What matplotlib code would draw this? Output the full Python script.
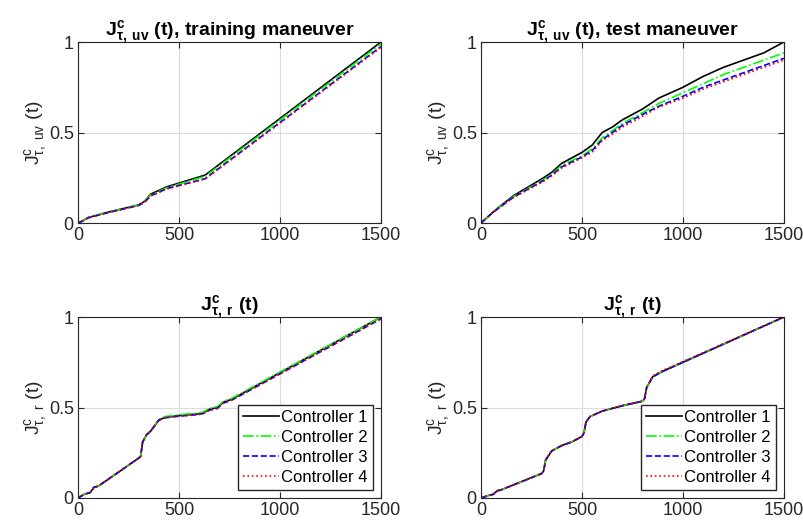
import matplotlib.pyplot as plt
import numpy as np

plt.rcParams['font.family'] = 'Liberation Sans'
plt.rcParams['mathtext.fontset'] = 'custom'
plt.rcParams['mathtext.rm'] = 'Liberation Sans'
plt.rcParams['mathtext.bf'] = 'Liberation Sans:bold'
plt.rcParams['mathtext.it'] = 'Liberation Sans:italic'

# training maneuver, uv
t_tr_uv = [0, 20, 50, 150, 300, 330, 360, 440, 630, 1500]
tr_uv_c1 = [0, 0.01, 0.03, 0.06, 0.10, 0.12, 0.16, 0.20, 0.265, 1.0]
tr_uv_c2 = [0, 0.01, 0.03, 0.06, 0.10, 0.12, 0.155, 0.195, 0.258, 0.99]
tr_uv_c3 = [0, 0.01, 0.028, 0.058, 0.097, 0.115, 0.15, 0.19, 0.245, 0.975]
tr_uv_c4 = [0, 0.01, 0.028, 0.058, 0.097, 0.115, 0.15, 0.188, 0.243, 0.97]

# test maneuver, uv
t_te_uv = [0, 50, 80, 160, 310, 350, 400, 500, 550, 600, 650, 700, 800, 880, 1000, 1100, 1200, 1300, 1400, 1500]
te_uv_c1 = [0, 0.05, 0.08, 0.15, 0.25, 0.28, 0.33, 0.39, 0.43, 0.50, 0.53, 0.57, 0.63, 0.69, 0.75, 0.81, 0.86, 0.90, 0.94, 1.0]
te_uv_c2 = [0, 0.05, 0.078, 0.145, 0.24, 0.27, 0.32, 0.37, 0.41, 0.47, 0.51, 0.55, 0.61, 0.66, 0.72, 0.77, 0.82, 0.86, 0.90, 0.94]
te_uv_c3 = [0, 0.05, 0.076, 0.142, 0.235, 0.265, 0.31, 0.365, 0.40, 0.46, 0.50, 0.54, 0.60, 0.645, 0.70, 0.75, 0.79, 0.83, 0.87, 0.91]
te_uv_c4 = [0, 0.05, 0.075, 0.14, 0.23, 0.26, 0.305, 0.36, 0.39, 0.455, 0.49, 0.53, 0.59, 0.64, 0.69, 0.74, 0.78, 0.82, 0.86, 0.90]

# training maneuver, r
t_tr_r = [0, 30, 60, 80, 100, 300, 310, 320, 340, 360, 400, 430, 500, 600, 620, 650, 690, 720, 760, 1500]
tr_r_c1 = [0, 0.02, 0.03, 0.06, 0.065, 0.22, 0.23, 0.31, 0.35, 0.37, 0.43, 0.445, 0.455, 0.465, 0.47, 0.49, 0.50, 0.53, 0.545, 1.0]
tr_r_c2 = [0, 0.02, 0.03, 0.06, 0.065, 0.22, 0.23, 0.31, 0.35, 0.37, 0.435, 0.45, 0.46, 0.47, 0.475, 0.495, 0.505, 0.535, 0.55, 1.0]
tr_r_c3 = [0, 0.02, 0.03, 0.06, 0.065, 0.22, 0.23, 0.31, 0.35, 0.37, 0.43, 0.443, 0.452, 0.462, 0.467, 0.485, 0.495, 0.525, 0.54, 0.99]
tr_r_c4 = [0, 0.02, 0.03, 0.06, 0.065, 0.22, 0.23, 0.31, 0.35, 0.37, 0.43, 0.443, 0.452, 0.462, 0.467, 0.485, 0.495, 0.525, 0.54, 0.99]

# test maneuver, r
t_te_r = [0, 40, 60, 80, 100, 300, 310, 320, 350, 400, 450, 500, 510, 520, 540, 600, 700, 800, 810, 820, 850, 900, 1500]
te_r_c1 = [0, 0.015, 0.02, 0.04, 0.045, 0.135, 0.15, 0.21, 0.26, 0.29, 0.31, 0.34, 0.36, 0.42, 0.45, 0.48, 0.51, 0.535, 0.55, 0.61, 0.67, 0.70, 1.0]
te_r_c2 = te_r_c1
te_r_c3 = te_r_c1
te_r_c4 = [0, 0.015, 0.02, 0.04, 0.045, 0.135, 0.15, 0.21, 0.26, 0.29, 0.31, 0.34, 0.36, 0.42, 0.45, 0.48, 0.51, 0.535, 0.55, 0.61, 0.675, 0.705, 1.0]

labels = ['Controller 1', 'Controller 2', 'Controller 3', 'Controller 4']
styles = [('k', '-'), ('#00ff00', '-.'), ('b', '--'), ('r', ':')]

panels = [
    (t_tr_uv, [tr_uv_c1, tr_uv_c2, tr_uv_c3, tr_uv_c4],
     r'$\mathbf{J^{c}_{\tau,\ uv}}$ $\mathbf{(t)}$, training maneuver', r'$\mathrm{J^{c}_{\tau,\ uv}}$ (t)', False),
    (t_te_uv, [te_uv_c1, te_uv_c2, te_uv_c3, te_uv_c4],
     r'$\mathbf{J^{c}_{\tau,\ uv}}$ $\mathbf{(t)}$, test maneuver', r'$\mathrm{J^{c}_{\tau,\ uv}}$ (t)', False),
    (t_tr_r, [tr_r_c1, tr_r_c2, tr_r_c3, tr_r_c4],
     r'$\mathbf{J^{c}_{\tau,\ r}}$ $\mathbf{(t)}$', r'$\mathrm{J^{c}_{\tau,\ r}}$ (t)', True),
    (t_te_r, [te_r_c1, te_r_c2, te_r_c3, te_r_c4],
     r'$\mathbf{J^{c}_{\tau,\ r}}$ $\mathbf{(t)}$', r'$\mathrm{J^{c}_{\tau,\ r}}$ (t)', True),
]

fig = plt.figure(figsize=(8.04, 5.29), dpi=100)
W, H = 804, 529
boxes = [(78, 42), (481, 42), (78, 317), (481, 317)]

for (x0, y0), (t, series, title, ylab, leg) in zip(boxes, panels):
    ax = fig.add_axes([x0 / W, 1 - (y0 + 181) / H, 303 / W, 181 / H])
    for s, (c, ls), lab in zip(series, styles, labels):
        ax.plot(t, s, color=c, linestyle=ls, linewidth=1.2, label=lab)
    ax.set_xlim(0, 1500)
    ax.set_ylim(0, 1)
    ax.set_xticks([0, 500, 1000, 1500])
    ax.set_yticks([0, 0.5, 1])
    ax.set_yticklabels(['0', '0.5', '1'])
    ax.grid(True, color='#dcdcdc', linewidth=0.8)
    ax.tick_params(direction='in', top=True, right=True, labelsize=13,
                   colors='#262626', length=4, pad=3)
    for sp in ax.spines.values():
        sp.set_color('#262626')
        sp.set_linewidth(0.8)
    ax.set_title(title, fontsize=14, fontweight='bold', pad=5)
    ax.set_ylabel(ylab, fontsize=14, color='#262626', labelpad=0)
    if leg:
        ax.legend(loc='lower right', fontsize=12, fancybox=False, edgecolor='#262626',
                  framealpha=1, handlelength=2.2, handletextpad=0.1, borderpad=0.3,
                  labelspacing=0.3, borderaxespad=0.5)

fig.savefig('out.png', dpi=100)
